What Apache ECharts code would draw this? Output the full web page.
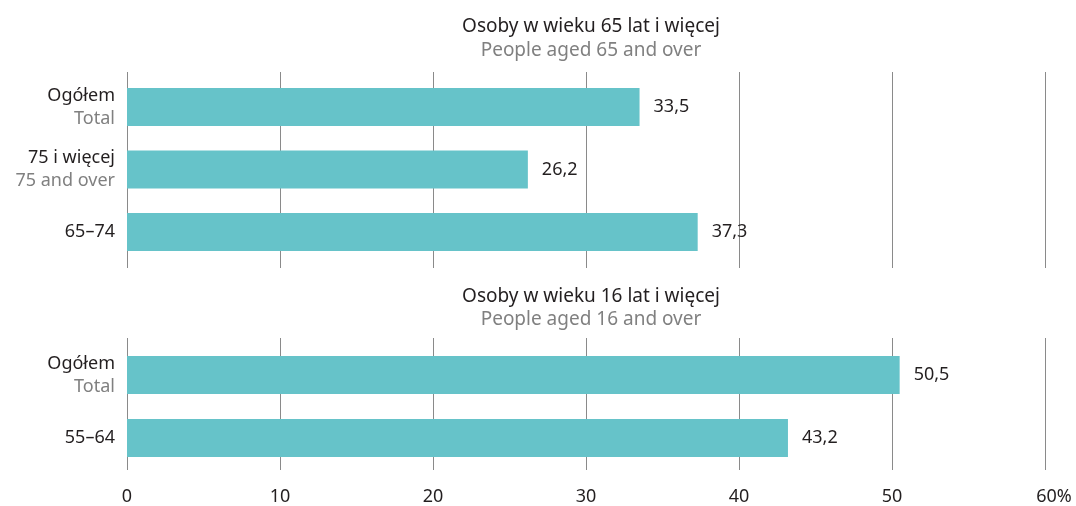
<!DOCTYPE html>
<html>
<head>
<meta charset="utf-8">
<script src="https://cdn.jsdelivr.net/npm/echarts@6/dist/echarts.min.js"></script>
<style>
  html, body { margin: 0; padding: 0; background: #fff; }
  #chart { width: 1076px; height: 506px; }
</style>
</head>
<body>
<div id="chart"></div>
<script>
// top panel: people aged 65 and over
const topCatsPl = ["Ogółem", "75 i więcej", "65–74"];
const topCatsEn = ["Total", "75 and over", ""];
const topValues = [33.5, 26.2, 37.3];

// bottom panel: people aged 16 and over
const botCatsPl = ["Ogółem", "55–64"];
const botCatsEn = ["Total", ""];
const botValues = [50.5, 43.2];

const xTicks = [0, 10, 20, 30, 40, 50, 60];

const FONT = "Noto Sans";
const FS = 18;
const BAR = "#66c3c9";
const DARK = "#231f20";
const GREY = "#808080";

function catLabel(pl, en) {
  return pl.map((p, i) => (en[i] ? "{a|" + p + "}\n{b|" + en[i] + "}" : "{a|" + p + "}"));
}

const topLabels = catLabel(topCatsPl, topCatsEn);
const botLabels = catLabel(botCatsPl, botCatsEn);

const richCat = {
  a: { color: DARK, fontSize: FS, fontFamily: FONT, lineHeight: 23, align: "right" },
  b: { color: GREY, fontSize: FS, fontFamily: FONT, lineHeight: 23, align: "right" }
};

function valueAxis(idx, showLabels) {
  return {
    type: "value", gridIndex: idx, min: 0, max: 60, interval: 10,
    axisLine: { show: false }, axisTick: { show: false },
    splitLine: { show: true, lineStyle: { color: "#8a8a8a", width: 1 } },
    axisLabel: {
      show: showLabels, color: DARK, fontSize: FS, fontFamily: FONT, margin: 18,
      formatter: (v) => (v === xTicks[xTicks.length - 1] ? "{pct|" + v + "%}" : String(v)),
      rich: { pct: { color: DARK, fontSize: FS, fontFamily: FONT, padding: [0, 0, 0, 18] } }
    }
  };
}

function hiddenValueAxis(idx) {
  return {
    type: "value", gridIndex: idx, min: 0, max: 60, interval: 10, show: false
  };
}

function catAxis(idx, labels) {
  return {
    type: "category", gridIndex: idx, data: labels, inverse: true,
    axisLine: { show: false }, axisTick: { show: false },
    axisLabel: { margin: 12, rich: richCat }
  };
}

function barSeries(xi, yi, values) {
  return {
    type: "bar", xAxisIndex: xi, yAxisIndex: yi, data: values,
    barWidth: 38, itemStyle: { color: BAR },
    label: {
      show: true, position: "right", distance: 14, color: DARK,
      fontSize: FS, fontFamily: FONT,
      formatter: (p) => p.value.toFixed(1).replace(".", ",")
    },
    silent: true
  };
}

function titleRich(lh) {
  return {
    a: { color: DARK, fontSize: 19, fontFamily: FONT, fontWeight: "normal", lineHeight: lh },
    b: { color: GREY, fontSize: 19, fontFamily: FONT, fontWeight: "normal", lineHeight: lh }
  };
}

const chart = echarts.init(document.getElementById("chart"));
chart.setOption({
  animation: false,
  backgroundColor: "#fff",
  textStyle: { fontFamily: FONT },
  title: [
    {
      text: "{a|Osoby w wieku 65 lat i więcej}\n{b|People aged 65 and over}",
      left: 586, top: 10, textAlign: "center",
      textStyle: { fontWeight: "normal", rich: titleRich(24) }
    },
    {
      text: "{a|Osoby w wieku 16 lat i więcej}\n{b|People aged 16 and over}",
      left: 586, top: 280.5, textAlign: "center",
      textStyle: { fontWeight: "normal", rich: titleRich(23) }
    }
  ],
  grid: [
    // gridline frames
    { left: 127, right: 31, top: 72, height: 196 },
    { left: 127, right: 31, top: 338, height: 138 },
    // bar plots
    { left: 127, right: 31, top: 75.75, height: 187.5 },
    { left: 127, right: 31, top: 343.5, height: 126 }
  ],
  xAxis: [
    valueAxis(0, false),
    valueAxis(1, true),
    hiddenValueAxis(2),
    hiddenValueAxis(3)
  ],
  yAxis: [
    { type: "value", gridIndex: 0, show: false },
    { type: "value", gridIndex: 1, show: false },
    catAxis(2, topLabels),
    catAxis(3, botLabels)
  ],
  series: [
    barSeries(2, 2, topValues),
    barSeries(3, 3, botValues)
  ]
});
</script>
</body>
</html>
